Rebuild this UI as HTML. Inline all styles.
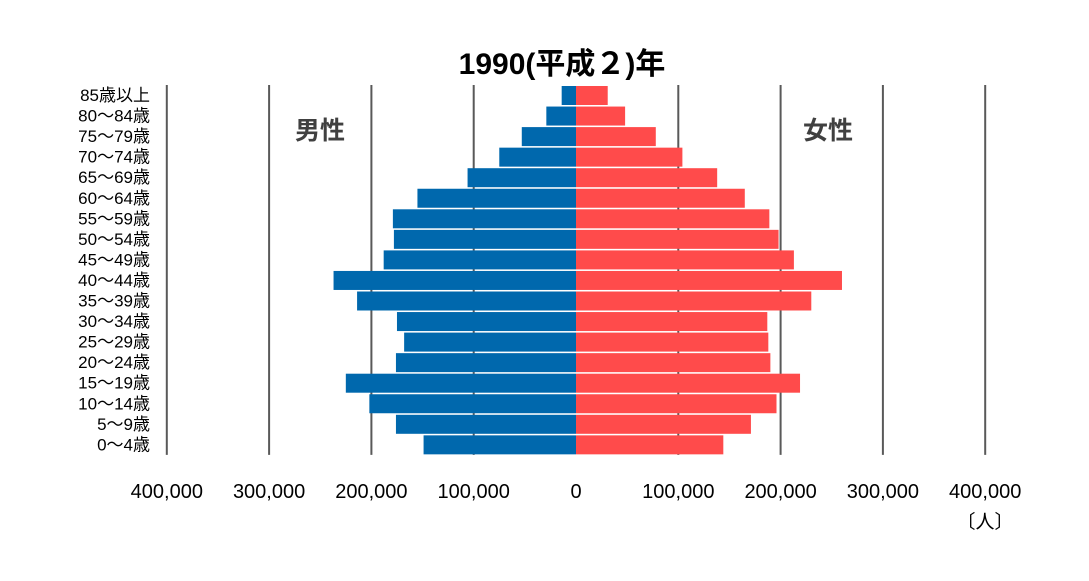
<!DOCTYPE html>
<html><head><meta charset="utf-8">
<style>
html,body{margin:0;padding:0;background:#fff;}
svg{display:block;font-family:"Liberation Sans","Noto Sans CJK JP",sans-serif;}
</style></head>
<body>
<svg id="chart" width="1089" height="581">
<text x="562" y="74" text-anchor="middle" font-size="30" font-weight="bold" fill="#000">1990(平成２)年</text>
<text x="320" y="139" text-anchor="middle" font-size="25" font-weight="bold" fill="#404040">男性</text>
<text x="828" y="139" text-anchor="middle" font-size="25" font-weight="bold" fill="#404040">女性</text>
<g id="grid"></g><g id="bars"></g><g id="labels"></g><g id="ticks"></g>
<text x="985" y="528" text-anchor="middle" font-size="19" fill="#000">〔人〕</text>
</svg>
<script>
const categories=["85歳以上","80～84歳","75～79歳","70～74歳","65～69歳","60～64歳","55～59歳","50～54歳","45～49歳","40～44歳","35～39歳","30～34歳","25～29歳","20～24歳","15～19歳","10～14歳","5～9歳","0～4歳"];
const maleValues=[14000,29000,53000,75000,106000,155000,179000,178000,188000,237000,214000,175000,168000,176000,225000,202000,176000,149000];
const femaleValues=[31000,48000,78000,104000,138000,165000,189000,198000,213000,260000,230000,187000,188000,190000,219000,196000,171000,144000];
const tickValues=[-400000,-300000,-200000,-100000,0,100000,200000,300000,400000];
const tickLabels=["400,000","300,000","200,000","100,000","0","100,000","200,000","300,000","400,000"];
const NS="http://www.w3.org/2000/svg";
const cx=576, scale=102.3/100000, plotTop=85, rowH=20.55, barH=19;
const xs=v=>cx+v*scale;
const ys=i=>plotTop+i*rowH;
function mk(t,a,p){const e=document.createElementNS(NS,t);for(const k in a)e.setAttribute(k,a[k]);p.appendChild(e);return e;}
const grid=document.getElementById('grid'),bars=document.getElementById('bars'),labels=document.getElementById('labels'),ticks=document.getElementById('ticks');
tickValues.forEach((v,i)=>{
  if(v!==0){const l=mk('line',{x1:xs(v),x2:xs(v),y1:plotTop,y2:plotTop+categories.length*rowH,stroke:'#595959','stroke-width':2},grid);
  
  }
  const t=mk('text',{x:xs(v),y:498,'text-anchor':'middle','font-size':20,fill:'#000'},ticks);
  t.textContent=tickLabels[i];
  
  
});
categories.forEach((c,i)=>{
  const m=mk('rect',{x:xs(-maleValues[i]),y:ys(i)+1,width:xs(0)-xs(-maleValues[i]),height:barH,fill:'#0068ad'},bars);
  
  
  const f=mk('rect',{x:xs(0),y:ys(i)+1,width:xs(femaleValues[i])-xs(0),height:barH,fill:'#ff4b4b'},bars);
  
  
  const t=mk('text',{x:150,y:ys(i)+16,'text-anchor':'end','font-size':17,fill:'#000'},labels);
  t.textContent=c;
  
  
});
</script>
</body></html>
